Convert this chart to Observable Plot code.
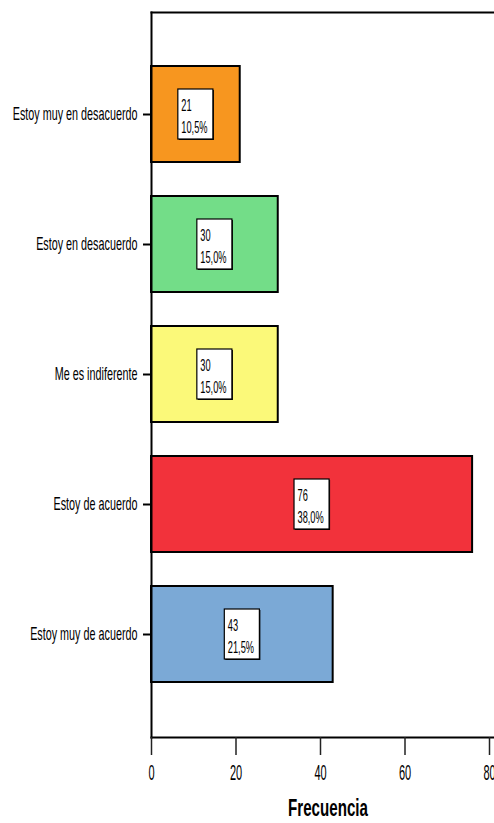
<!DOCTYPE html>
<html>
<head>
<meta charset="utf-8">
<script src="https://cdn.jsdelivr.net/npm/d3@7"></script>
<script src="https://cdn.jsdelivr.net/npm/@observablehq/plot@0.6"></script>
<style>
  html, body { margin: 0; padding: 0; background: white; }
</style>
</head>
<body>
<div id="chart"></div>
<script>
const categories = ["Estoy muy en desacuerdo", "Estoy en desacuerdo", "Me es indiferente", "Estoy de acuerdo", "Estoy muy de acuerdo"];
const counts = [21, 30, 30, 76, 43];
const percents = ["10,5%", "15,0%", "15,0%", "38,0%", "21,5%"];
const colors = ["#f7961f", "#73dd88", "#fbf979", "#f2323b", "#7ba9d6"];
const xTicks = [0, 20, 40, 60, 80];
const xLabel = "Frecuencia";

const data = categories.map((c, i) => ({cat: c, n: counts[i], pct: percents[i]}));
const half = 4.15; // half width of label box in data units

const chart = Plot.plot({
  width: 494,
  height: 823,
  marginLeft: 151,
  marginRight: 0,
  marginTop: 12,
  marginBottom: 86,
  style: {fontFamily: "'Liberation Sans', Arial, sans-serif", background: "white", color: "black"},
  x: {domain: [0, 80], range: [151, 489], label: null},
  y: {domain: categories, paddingInner: 0.26, paddingOuter: 0.4, label: null},
  color: {domain: categories, range: colors},
  marks: [
    Plot.barX(data, {y: "cat", x: "n", fill: "cat", stroke: "black", strokeWidth: 2}),
    Plot.rect(data, {y: "cat", x1: d => d.n / 2 - half, x2: d => d.n / 2 + half, insetTop: 23, insetBottom: 23, fill: "black", dx: 1, dy: 1}),
    Plot.rect(data, {y: "cat", x1: d => d.n / 2 - half, x2: d => d.n / 2 + half, insetTop: 23, insetBottom: 23, fill: "white", stroke: "black", strokeWidth: 1.2}),
    Plot.text(data, {y: "cat", x: d => d.n / 2 - half, text: d => `${d.n}\n${d.pct}`, textAnchor: "start", dx: 3, dy: 0, fontSize: 16.5, lineHeight: 1.35, fill: "black"}),
    Plot.frame({anchor: "left", stroke: "black", strokeWidth: 2}),
    Plot.frame({anchor: "top", stroke: "black", strokeWidth: 2}),
    Plot.frame({anchor: "bottom", stroke: "black", strokeWidth: 2}),
    Plot.axisX({ticks: xTicks, tickSize: 18, tickPadding: 9, fontSize: 22, stroke: "#222", strokeWidth: 1.5, label: null, tickFormat: d => String(d)}),
    Plot.axisY({tickSize: 8, tickPadding: 6, fontSize: 18, stroke: "black", strokeWidth: 2, label: null}),
    Plot.text([xLabel], {frameAnchor: "bottom", text: d => d, dx: 5, dy: 78, lineAnchor: "bottom", fontSize: 24, fontWeight: "bold", fill: "black"})
  ]
});

// condense all texts horizontally like the reference's narrow typeface
chart.querySelectorAll("text").forEach(t => {
  const g = t.closest("g[aria-label]");
  const lab = g ? g.getAttribute("aria-label") : "";
  let s;
  if (lab === "x-axis tick label") s = 0.5;
  else if (lab === "y-axis tick label") s = 0.6;
  else if (t.textContent === xLabel) s = 0.63;
  else s = 0.56;
  const tr = t.getAttribute("transform") || "";
  t.setAttribute("transform", `${tr} scale(${s},1)`);
});
document.getElementById("chart").appendChild(chart);
</script>
</body>
</html>
